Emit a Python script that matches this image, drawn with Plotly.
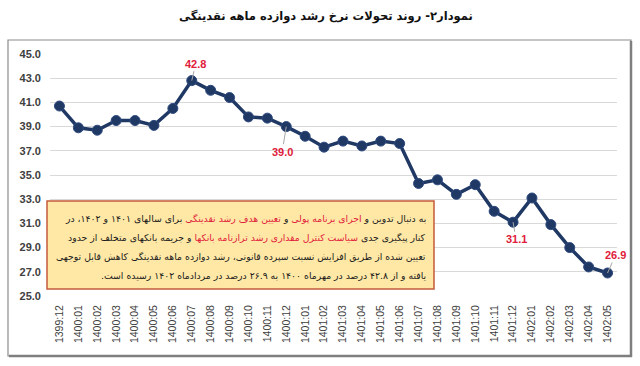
import plotly.graph_objects as go

periods = ["1399:12", "1400:01", "1400:02", "1400:03", "1400:04", "1400:05", "1400:06",
           "1400:07", "1400:08", "1400:09", "1400:10", "1400:11", "1400:12",
           "1401:01", "1401:02", "1401:03", "1401:04", "1401:05", "1401:06",
           "1401:07", "1401:08", "1401:09", "1401:10", "1401:11", "1401:12",
           "1402:01", "1402:02", "1402:03", "1402:04", "1402:05"]
growth = [40.7, 38.9, 38.7, 39.5, 39.5, 39.1, 40.5,
          42.8, 42.0, 41.4, 39.8, 39.7, 39.0,
          38.2, 37.3, 37.8, 37.4, 37.8, 37.6,
          34.3, 34.6, 33.4, 34.2, 32.0, 31.1,
          33.1, 30.9, 29.0, 27.4, 26.9]
y_ticks = [25, 27, 29, 31, 33, 35, 37, 39, 41, 43, 45]

highlight_idx = [7, 12, 24, 29]
highlight_off = [(4, -17), (-4, 25), (3, 17), (8, -18)]

title = "نمودار۲- روند تحولات نرخ رشد دوازده ماهه نقدینگی"
RED = "#E0203A"
RLM = "\u200f"
note_lines = [
    "به دنبال تدوین و <span style='color:%s'>اجرای برنامه پولی</span> و <span style='color:%s'>تعیین هدف رشد نقدینگی</span> برای سالهای ۱۴۰۱ و ۱۴۰۲، در" % (RED, RED),
    "کنار پیگیری جدی <span style='color:%s'>سیاست کنترل مقداری رشد ترازنامه بانکها</span> و جریمه بانکهای متخلف از حدود" % RED,
    "تعیین شده از طریق افزایش نسبت سپرده قانونی، رشد دوازده ماهه نقدینگی کاهش قابل توجهی",
    "یافته و از ۴۲.۸ درصد در مهرماه ۱۴۰۰ به ۲۶.۹ درصد در مردادماه ۱۴۰۲ رسیده است." + RLM,
]

NAVY = "#1F3864"
L, R, T, B = 50, 23, 54, 70
W, H = 640, 366
pw, ph = W - L - R, H - T - B


def px(x):
    return (x - L) / pw


def py(y):
    return (H - B - y) / ph


fig = go.Figure()
fig.add_trace(go.Scatter(
    x=periods, y=growth, mode="lines+markers",
    line=dict(color=NAVY, width=3.5),
    marker=dict(size=10, color=NAVY, line=dict(color="#2E4A80", width=1)),
    hoverinfo="x+y", showlegend=False,
))

annotations = []
for i, (ax, ay) in zip(highlight_idx, highlight_off):
    annotations.append(dict(
        x=periods[i], y=growth[i], xref="x", yref="y",
        text="<b>%.1f</b>" % growth[i], showarrow=True,
        arrowhead=0, arrowwidth=1, arrowcolor="#A6A6A6",
        ax=ax, ay=ay, font=dict(family="Arial", size=11, color=RED),
    ))

line_y = [218, 237, 256, 275]
for txt, yy in zip(note_lines, line_y):
    annotations.append(dict(
        x=px(428), y=py(yy), xref="paper", yref="paper",
        xanchor="right", yanchor="middle", align="right",
        text=txt, showarrow=False,
        font=dict(family="DejaVu Sans", size=9.3, color="#1a1a1a"),
    ))

annotations.append(dict(
    x=px(326), y=py(17), xref="paper", yref="paper",
    xanchor="center", yanchor="middle",
    text="<b>" + title + "</b>",
    showarrow=False, font=dict(family="DejaVu Sans", size=11.5, color="#111111"),
))

shapes = [
    # outer frame
    dict(type="rect", xref="paper", yref="paper",
         x0=px(8), x1=px(631), y0=py(356), y1=py(40),
         line=dict(color="#8C8C8C", width=1.2), fillcolor="rgba(0,0,0,0)", layer="below"),
    dict(type="line", xref="paper", yref="paper",
         x0=px(631), x1=px(631), y0=py(357), y1=py(41),
         line=dict(color="#7F7F7F", width=2.5)),
    dict(type="line", xref="paper", yref="paper",
         x0=px(9), x1=px(632), y0=py(356), y1=py(356),
         line=dict(color="#7F7F7F", width=2.5)),
    # text box
    dict(type="rect", xref="paper", yref="paper",
         x0=px(47), x1=px(434), y0=py(289), y1=py(201),
         line=dict(color="#C55A3C", width=1.5), fillcolor="#FFE8A6", layer="above"),
]

fig.update_layout(
    width=W, height=H,
    margin=dict(l=L, r=R, t=T, b=B),
    paper_bgcolor="white", plot_bgcolor="white",
    annotations=annotations, shapes=shapes,
    xaxis=dict(type="category", tickangle=-90, showgrid=False, showline=False,
               range=[-0.5, len(periods) - 0.5],
               tickfont=dict(family="Arial", size=10.5, color="#404040"),
               ticks="", ticklabelstandoff=6),
    yaxis=dict(range=[25, 45], tickvals=y_ticks, ticktext=["<b>%.1f</b>" % v for v in y_ticks],
               showgrid=True, gridcolor="#D9D9D9", gridwidth=1, zeroline=False,
               showline=False, ticks="", ticklabelstandoff=8,
               tickfont=dict(family="Arial", size=11, color="#404040")),
)

fig.write_html("out.html", config={"displayModeBar": False},
               post_script="document.body.style.margin='0';document.body.style.overflow='hidden';")
